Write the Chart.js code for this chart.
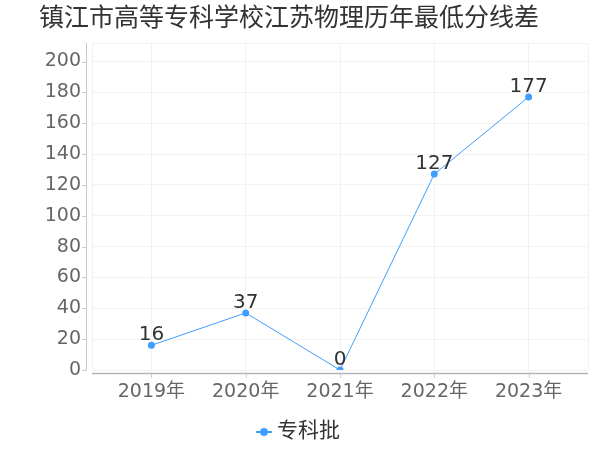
<!DOCTYPE html>
<html>
<head>
<meta charset="utf-8">
<script src="https://cdn.jsdelivr.net/npm/chart.js@4/dist/chart.umd.min.js"></script>
<style>
  html, body { margin: 0; padding: 0; background: #fff; }
  #wrap { width: 600px; height: 450px; }
</style>
</head>
<body>
<div id="wrap"><canvas id="chart" width="600" height="450"></canvas></div>
<script>
const titulo = "镇江市高等专科学校江苏物理历年最低分线差";
const categorias = ["2019年", "2020年", "2021年", "2022年", "2023年"];
const serieNombre = "专科批";
const valores = [16, 37, 0, 127, 177];
const ticksY = [0, 20, 40, 60, 80, 100, 120, 140, 160, 180, 200];

const color = "#409eff";
const fuente = "'DejaVu Sans', 'Noto Sans CJK SC', sans-serif";
const xMin = -0.63, xMax = 4.63, yMax = 212;

const titulo_plugin = {
    id: "titulo",
    afterDraw(chart) {
        const { ctx } = chart;
        ctx.save();
        ctx.font = "25px " + fuente;
        ctx.fillStyle = "#333";
        ctx.textAlign = "center";
        ctx.textBaseline = "middle";
        ctx.fillText(titulo, 289, 19);
        ctx.restore();
    }
};

// leyenda abajo: linea con punto y nombre de la serie
const leyenda = {
    id: "leyenda",
    afterDraw(chart) {
        const { ctx } = chart;
        const y = 432;
        ctx.save();
        ctx.font = "21px " + fuente;
        const ancho = ctx.measureText(serieNombre).width;
        const x0 = 300 - (18 + 5 + ancho) / 2 - 1;
        ctx.strokeStyle = color;
        ctx.lineWidth = 2;
        ctx.beginPath();
        ctx.moveTo(x0, y);
        ctx.lineTo(x0 + 16, y);
        ctx.stroke();
        ctx.fillStyle = color;
        ctx.beginPath();
        ctx.arc(x0 + 8, y, 4, 0, Math.PI * 2);
        ctx.fill();
        ctx.fillStyle = "#333";
        ctx.textAlign = "left";
        ctx.textBaseline = "middle";
        ctx.fillText(serieNombre, x0 + 21, y);
        ctx.restore();
    }
};

const ejes = {
    id: "ejes",
    afterDraw(chart) {
        const { ctx, chartArea, scales } = chart;
        ctx.save();
        // eje y
        ctx.strokeStyle = "#c8c8c8";
        ctx.lineWidth = 1;
        ctx.beginPath();
        ctx.moveTo(chartArea.left - 5.5, chartArea.top);
        ctx.lineTo(chartArea.left - 5.5, chartArea.bottom);
        ticksY.forEach(v => {
            const y = Math.round(scales.y.getPixelForValue(v)) + 0.5;
            ctx.moveTo(chartArea.left - 9.5, y);
            ctx.lineTo(chartArea.left - 5.5, y);
        });
        ctx.stroke();
        // eje x
        ctx.strokeStyle = "#b4b4b4";
        ctx.lineWidth = 1.5;
        ctx.beginPath();
        ctx.moveTo(chartArea.left, chartArea.bottom + 3.5);
        ctx.lineTo(chartArea.right, chartArea.bottom + 3.5);
        ctx.stroke();
        ctx.strokeStyle = "#d0d0d0";
        ctx.lineWidth = 1;
        ctx.beginPath();
        categorias.forEach((c, i) => {
            const x = Math.round(scales.x.getPixelForValue(i)) + 0.5;
            ctx.moveTo(x, chartArea.bottom + 4);
            ctx.lineTo(x, chartArea.bottom + 8);
        });
        ctx.stroke();
        ctx.restore();
    }
};

const etiquetas = {
    id: "etiquetas",
    afterDatasetsDraw(chart) {
        const { ctx } = chart;
        const meta = chart.getDatasetMeta(0);
        ctx.save();
        ctx.font = "20px " + fuente;
        ctx.fillStyle = "#333";
        ctx.textAlign = "center";
        ctx.textBaseline = "alphabetic";
        meta.data.forEach((p, i) => {
            ctx.fillText(String(valores[i]), p.x, p.y - 5);
        });
        ctx.restore();
    }
};

const ctx = document.getElementById("chart").getContext("2d");
const grafico = new Chart(ctx, {
    type: "line",
    data: {
        datasets: [{
            label: serieNombre,
            data: valores.map((v, i) => ({ x: i, y: v })),
            borderColor: color,
            backgroundColor: color,
            borderWidth: 1,
            pointStyle: "circle",
            pointRadius: 3.5,
            pointHoverRadius: 3.5,
            pointBackgroundColor: color,
            pointBorderWidth: 0,
            tension: 0
        }]
    },
    options: {
        responsive: false,
        animation: false,
        events: [],
        layout: { padding: { left: 0, right: 12, top: 43, bottom: 35 } },
        scales: {
            x: {
                type: "linear",
                min: xMin,
                max: xMax,
                afterBuildTicks: s => {
                    s.ticks = [xMin, ...categorias.map((c, i) => i), xMax].map(v => ({ value: v }));
                },
                ticks: {
                    autoSkip: false,
                    maxRotation: 0,
                    padding: 11,
                    color: "#666",
                    font: { size: 19, family: fuente },
                    callback: v => Number.isInteger(v) ? categorias[v] : ""
                },
                grid: { color: "#f2f2f2", drawTicks: false },
                border: { display: false },
                afterFit: s => { s.height = 45; }
            },
            y: {
                min: 0,
                max: yMax,
                afterBuildTicks: s => {
                    s.ticks = [...ticksY, yMax].map(v => ({ value: v }));
                },
                ticks: {
                    autoSkip: false,
                    padding: 11,
                    color: "#666",
                    font: { size: 19, family: fuente },
                    callback: v => ticksY.includes(v) ? String(v) : ""
                },
                grid: { color: "#f2f2f2", drawTicks: false },
                border: { display: false },
                afterFit: s => { s.width = 92; }
            }
        },
        plugins: {
            title: { display: false },
            legend: { display: false },
            tooltip: { enabled: false }
        }
    },
    plugins: [ejes, etiquetas, titulo_plugin, leyenda]
});
</script>
</body>
</html>
